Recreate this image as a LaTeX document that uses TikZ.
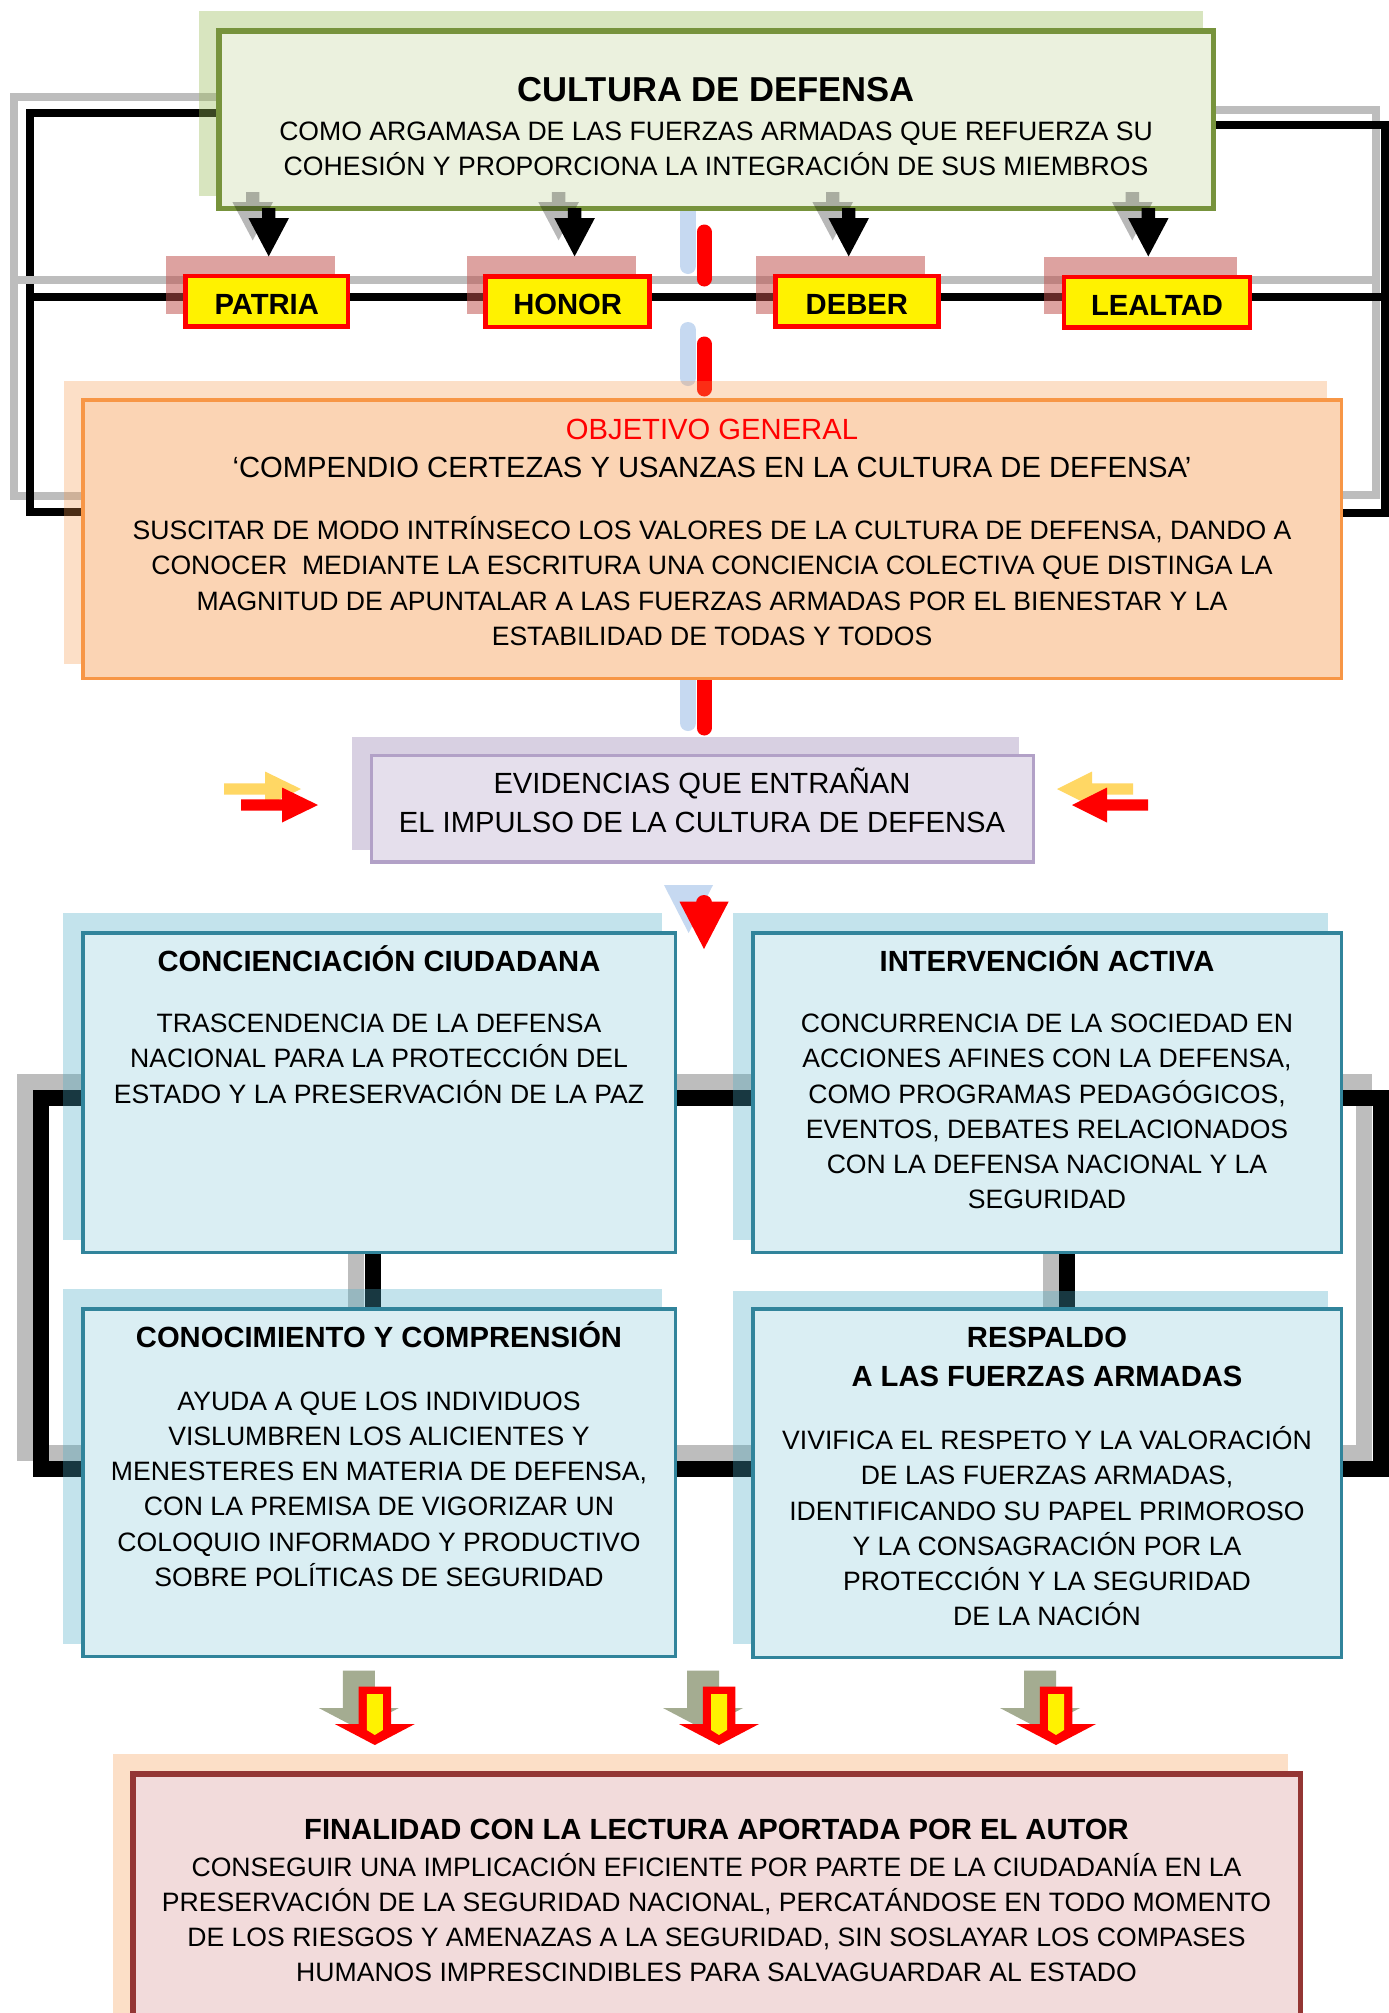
\documentclass[tikz,border=0pt]{standalone}
\usepackage{fontspec}
\setmainfont{Liberation Sans}
\definecolor{gfill}{HTML}{EBF1DE}
\definecolor{gline}{HTML}{77933C}
\definecolor{gshad}{HTML}{9BBB59}
\definecolor{ofill}{HTML}{FBD4B4}
\definecolor{oline}{HTML}{F79646}
\definecolor{pfill}{HTML}{E5DFEC}
\definecolor{pline}{HTML}{B2A1C7}
\definecolor{pshad}{HTML}{8064A2}
\definecolor{bfill}{HTML}{DAEEF3}
\definecolor{bline}{HTML}{31849B}
\definecolor{bshad}{HTML}{4BACC6}
\definecolor{rfill}{HTML}{F2DBDB}
\definecolor{rline}{HTML}{943634}
\definecolor{vshad}{HTML}{C0504D}
\definecolor{pillblue}{HTML}{C6D9F1}
\definecolor{linegray}{RGB}{189,189,189}
\definecolor{arrgray}{RGB}{164,172,145}
\definecolor{arryel}{RGB}{255,215,100}
\newcommand\fbody{\fontsize{26.6pt}{35.2pt}\selectfont}
\newcommand\fhead{\fontsize{29.2pt}{39.2pt}\selectfont}
\newcommand\ftitle{\fontsize{34.6pt}{40pt}\selectfont\bfseries}
\newcommand\rs{\rule{0pt}{1em}}
\pgfdeclarelayer{bg}
\pgfdeclarelayer{lines}
\pgfdeclarelayer{shadows}
\pgfsetlayers{bg,lines,shadows,main}
\tikzset{
  bx/.style={rectangle, inner sep=0pt, outer sep=0pt},
  tb/.style={anchor=north, inner sep=0pt, align=center},
  tl/.style={anchor=base, inner sep=0pt},
  blk/.style={line width=8pt, draw=black},
  gry/.style={line width=8pt, draw=linegray},
  blkB/.style={line width=16pt, draw=black},
  gryB/.style={line width=16pt, draw=linegray},
  pillB/.style={line width=16pt, draw=pillblue, line cap=round},
  pillR/.style={line width=15pt, draw=red, line cap=round},
  valbox/.style={bx, fill=yellow, draw=red, line width=4.5pt, minimum height=50.5pt, font=\fhead\bfseries, text height=26.9pt, text depth=0pt},
  bluebox/.style={bx, fill=bfill, draw=bline, line width=3.5pt},
}
\begin{document}
\begin{tikzpicture}[x=1pt, y=-1pt]
\useasboundingbox (0,0) rectangle (1389,2013);
\begin{pgfonlayer}{bg}
\fill[white] (0,0) rectangle (1389,2013);
\end{pgfonlayer}

% ---------------- main boxes ----------------
\node[bx, fill=gfill, draw=gline, line width=5.5pt, minimum width=994.5pt, minimum height=177.5pt] (cult) at (716,119.5) {};
\node[valbox, minimum width=162.9pt] (patria) at (266.7,301) {PATRIA};
\node[valbox, minimum width=163.8pt] (honor) at (567.6,301.5) {HONOR};
\node[valbox, minimum width=163.1pt] (deber) at (856.8,301) {DEBER};
\node[valbox, minimum width=185.9pt] (lealtad) at (1157,302) {LEALTAD};
\node[bx, fill=ofill, draw=oline, line width=3.5pt, minimum width=1258.5pt, minimum height=278.5pt] (obj) at (712,539) {};
\node[bx, fill=pfill, draw=pline, line width=3.5pt, minimum width=662pt, minimum height=106.5pt] (evid) at (702.25,808.5) {};
\node[bluebox, minimum width=592.5pt, minimum height=319.5pt] (conc) at (379,1092.5) {};
\node[bluebox, minimum width=588.5pt, minimum height=319.5pt] (interv) at (1047,1092.5) {};
\node[bluebox, minimum width=592.5pt, minimum height=347.5pt] (conoc) at (379,1482.5) {};
\node[bluebox, minimum width=588.5pt, minimum height=348.5pt] (resp) at (1047,1483) {};
\node[bx, fill=rfill, draw=rline, line width=5.5pt, minimum width=1167.5pt, minimum height=263.5pt] (fin) at (716.5,1905.5) {};

% ---------------- shadows ----------------
\begin{pgfonlayer}{shadows}
\fill[gshad, opacity=.38] (199,11) rectangle (1203,196);
\fill[vshad, opacity=.53] (165.6,256) rectangle (335.3,314);
\fill[vshad, opacity=.53] (466.5,256.4) rectangle (636,314);
\fill[vshad, opacity=.53] (755.5,255.5) rectangle (925.4,313.6);
\fill[vshad, opacity=.53] (1044.4,257) rectangle (1237,314);
\fill[oline, opacity=.3] (64,381) rectangle (1327,664);
\fill[pshad, opacity=.3] (352,737) rectangle (1019,850);
\fill[bshad, opacity=.33] (63,913) rectangle (662,1239.5);
\fill[bshad, opacity=.33] (733,913) rectangle (1327.5,1239.5);
\fill[bshad, opacity=.33] (63,1289) rectangle (662,1644);
\fill[bshad, opacity=.33] (733,1290.7) rectangle (1327.5,1644);
\fill[oline, opacity=.3] (113,1754) rectangle (1288,2030);
\end{pgfonlayer}

% ---------------- connectors ----------------
\begin{pgfonlayer}{lines}
% top loops
\draw[gry] (cult.west |- 0,97) -| (14,496) -- (obj.west |- 0,496);
\draw[blk] (cult.west |- 0,113) -| (30,512) -- (obj.west |- 0,512);
\draw[gry] (cult.east |- 0,110) -| (1376,495) -- (obj.east |- 0,495);
\draw[blk] (cult.east |- 0,125) -| (1385,513) -- (obj.east |- 0,513);
% line through the values
\draw[gry] (10,280) -- (1380,280);
\draw[blk] (26,296.5) -- (1389,296.5);
% vertical pills
\draw[pillB] (688,205) -- (688,266);
\draw[pillR] (704,232) -- (704,279);
\draw[pillB] (688,330) -- (688,378);
\draw[pillR] (704,344) -- (704,389);
\draw[pillB] (688,665) -- (688,723);
\draw[pillR] (704,665) -- (704,728);
% lower frame
\draw[gryB] (conc.west |- 0,1081.5) -| (25,1453) -- (conoc.west |- 0,1453);
\draw[blkB] (conc.west |- 0,1098) -| (41,1469) -- (conoc.west |- 0,1469);
\draw[gryB] (interv.east |- 0,1081.5) -| (1364,1453) -- (resp.east |- 0,1453);
\draw[blkB] (interv.east |- 0,1098) -| (1380.5,1469) -- (resp.east |- 0,1469);
\draw[gryB] (conc.east |- 0,1081.5) -- (interv.west |- 0,1081.5);
\draw[blkB] (conc.east |- 0,1098) -- (interv.west |- 0,1098);
\draw[gryB] (conoc.east |- 0,1453) -- (resp.west |- 0,1453);
\draw[blkB] (conoc.east |- 0,1469) -- (resp.west |- 0,1469);
\draw[gryB] (conc.south -| 356,0) -- (conoc.north -| 356,0);
\draw[blkB] (conc.south -| 372.5,0) -- (conoc.north -| 372.5,0);
\draw[gryB] (interv.south -| 1051,0) -- (resp.north -| 1051,0);
\draw[blkB] (interv.south -| 1067,0) -- (resp.north -| 1067,0);
\end{pgfonlayer}

% ---------------- texts ----------------
\node[tl, font=\ftitle] (tcult) at (716,101) {CULTURA DE DEFENSA};
\node[tb, font=\fbody] (bcult) at (716,113.9) {\rs COMO ARGAMASA DE LAS FUERZAS ARMADAS QUE REFUERZA SU\\COHESIÓN Y PROPORCIONA LA INTEGRACIÓN DE SUS MIEMBROS};

\node[tl, font=\fhead, text=red] (tobj) at (712,439.2) {OBJETIVO GENERAL};
\node[tl, font=\fhead] (sobj) at (712,477.5) {‘COMPENDIO CERTEZAS Y USANZAS EN LA CULTURA DE DEFENSA’};
\node[tb, font=\fbody] (bobj) at (712,512.9) {\rs SUSCITAR DE MODO INTRÍNSECO LOS VALORES DE LA CULTURA DE DEFENSA, DANDO A\\CONOCER\ \ MEDIANTE LA ESCRITURA UNA CONCIENCIA COLECTIVA QUE DISTINGA LA\\MAGNITUD DE APUNTALAR A LAS FUERZAS ARMADAS POR EL BIENESTAR Y LA\\ESTABILIDAD DE TODAS Y TODOS};

\node[tb, font=\fhead] (tevid) at (702,764.3) {\rs EVIDENCIAS QUE ENTRAÑAN\\EL IMPULSO DE LA CULTURA DE DEFENSA};

\node[tl, font=\fhead\bfseries] (tconc) at (379,971) {CONCIENCIACIÓN CIUDADANA};
\node[tb, font=\fbody] (bconc) at (379,1005.9) {\rs TRASCENDENCIA DE LA DEFENSA\\NACIONAL PARA LA PROTECCIÓN DEL\\ESTADO Y LA PRESERVACIÓN DE LA PAZ};

\node[tl, font=\fhead\bfseries] (tinterv) at (1047,971) {INTERVENCIÓN ACTIVA};
\node[tb, font=\fbody] (binterv) at (1047,1005.9) {\rs CONCURRENCIA DE LA SOCIEDAD EN\\ACCIONES AFINES CON LA DEFENSA,\\COMO PROGRAMAS PEDAGÓGICOS,\\EVENTOS, DEBATES RELACIONADOS\\CON LA DEFENSA NACIONAL Y LA\\SEGURIDAD};

\node[tl, font=\fhead\bfseries] (tconoc) at (379,1347) {CONOCIMIENTO Y COMPRENSIÓN};
\node[tb, font=\fbody] (bconoc) at (379,1383.4) {\rs AYUDA A QUE LOS INDIVIDUOS\\VISLUMBREN LOS ALICIENTES Y\\MENESTERES EN MATERIA DE DEFENSA,\\CON LA PREMISA DE VIGORIZAR UN\\COLOQUIO INFORMADO Y PRODUCTIVO\\SOBRE POLÍTICAS DE SEGURIDAD};

\node[tb, font=\fhead\bfseries] (tresp) at (1047,1318.3) {\rs RESPALDO\\A LAS FUERZAS ARMADAS};
\node[tb, font=\fbody] (bresp) at (1047,1422.9) {\rs VIVIFICA EL RESPETO Y LA VALORACIÓN\\DE LAS FUERZAS ARMADAS,\\IDENTIFICANDO SU PAPEL PRIMOROSO\\Y LA CONSAGRACIÓN POR LA\\PROTECCIÓN Y LA SEGURIDAD\\DE LA NACIÓN};

\node[tl, font=\fhead\bfseries] (tfin) at (716.5,1839.5) {FINALIDAD CON LA LECTURA APORTADA POR EL AUTOR};
\node[tb, font=\fontsize{26.6pt}{34.8pt}\selectfont] (bfin) at (716.5,1849.9) {\rs CONSEGUIR UNA IMPLICACIÓN EFICIENTE POR PARTE DE LA CIUDADANÍA EN LA\\PRESERVACIÓN DE LA SEGURIDAD NACIONAL, PERCATÁNDOSE EN TODO MOMENTO\\DE LOS RIESGOS Y AMENAZAS A LA SEGURIDAD, SIN SOSLAYAR LOS COMPASES\\HUMANOS IMPRESCINDIBLES PARA SALVAGUARDAR AL ESTADO};

% ---------------- arrows: culture -> values ----------------
\foreach \c in {268.7,574.6,848.7,1148.3} {
  \fill[black, opacity=.28] (\c-16-6.7,192) -- (\c-16+6.7,192) -- (\c-16+6.7,202) -- (\c-16+20.3,202) -- (\c-16,240.4) -- (\c-16-20.3,202) -- (\c-16-6.7,202) -- cycle;
  \fill[black] (\c-6.7,208) -- (\c+6.7,208) -- (\c+6.7,218) -- (\c+20.3,218) -- (\c,256.4) -- (\c-20.3,218) -- (\c-6.7,218) -- cycle;
}

% ---------------- side arrows to evidencias ----------------
\fill[arryel] (224,783.3) -- (265,783.3) -- (265,771.5) -- (301,789) -- (265,806.5) -- (265,794.7) -- (224,794.7) -- cycle;
\fill[red] (241,799.3) -- (282,799.3) -- (282,787.5) -- (318,805) -- (282,822.5) -- (282,810.7) -- (241,810.7) -- cycle;
\fill[arryel] (1133,783.3) -- (1092,783.3) -- (1092,771.5) -- (1057,789) -- (1092,806.5) -- (1092,794.7) -- (1133,794.7) -- cycle;
\fill[red] (1148,799.3) -- (1107,799.3) -- (1107,787.5) -- (1072,805) -- (1107,822.5) -- (1107,810.7) -- (1148,810.7) -- cycle;

% ---------------- down arrow below evidencias ----------------
\fill[pillblue] (664,885) -- (713,885) -- (688.6,933) -- cycle;
\fill[red] (704,903) circle (8);
\fill[red] (679.5,901.7) -- (728.6,901.7) -- (704,949) -- cycle;

% ---------------- arrows to finalidad ----------------
\foreach \c in {374.8,719,1056} {
  \fill[arrgray] (\c-16-16,1670.7) -- (\c-16+16,1670.7) -- (\c-16+16,1708) -- (\c-16+40,1708) -- (\c-16,1729) -- (\c-16-40,1708) -- (\c-16-16,1708) -- cycle;
  \fill[red] (\c-16.25,1686.7) -- (\c+16.25,1686.7) -- (\c+16.25,1724) -- (\c+40,1724) -- (\c,1745) -- (\c-40,1724) -- (\c-16.25,1724) -- cycle;
  \fill[yellow] (\c-8,1694) -- (\c+8,1694) -- (\c+8,1730) -- (\c,1735) -- (\c-8,1730) -- cycle;
}
\end{tikzpicture}
\end{document}
